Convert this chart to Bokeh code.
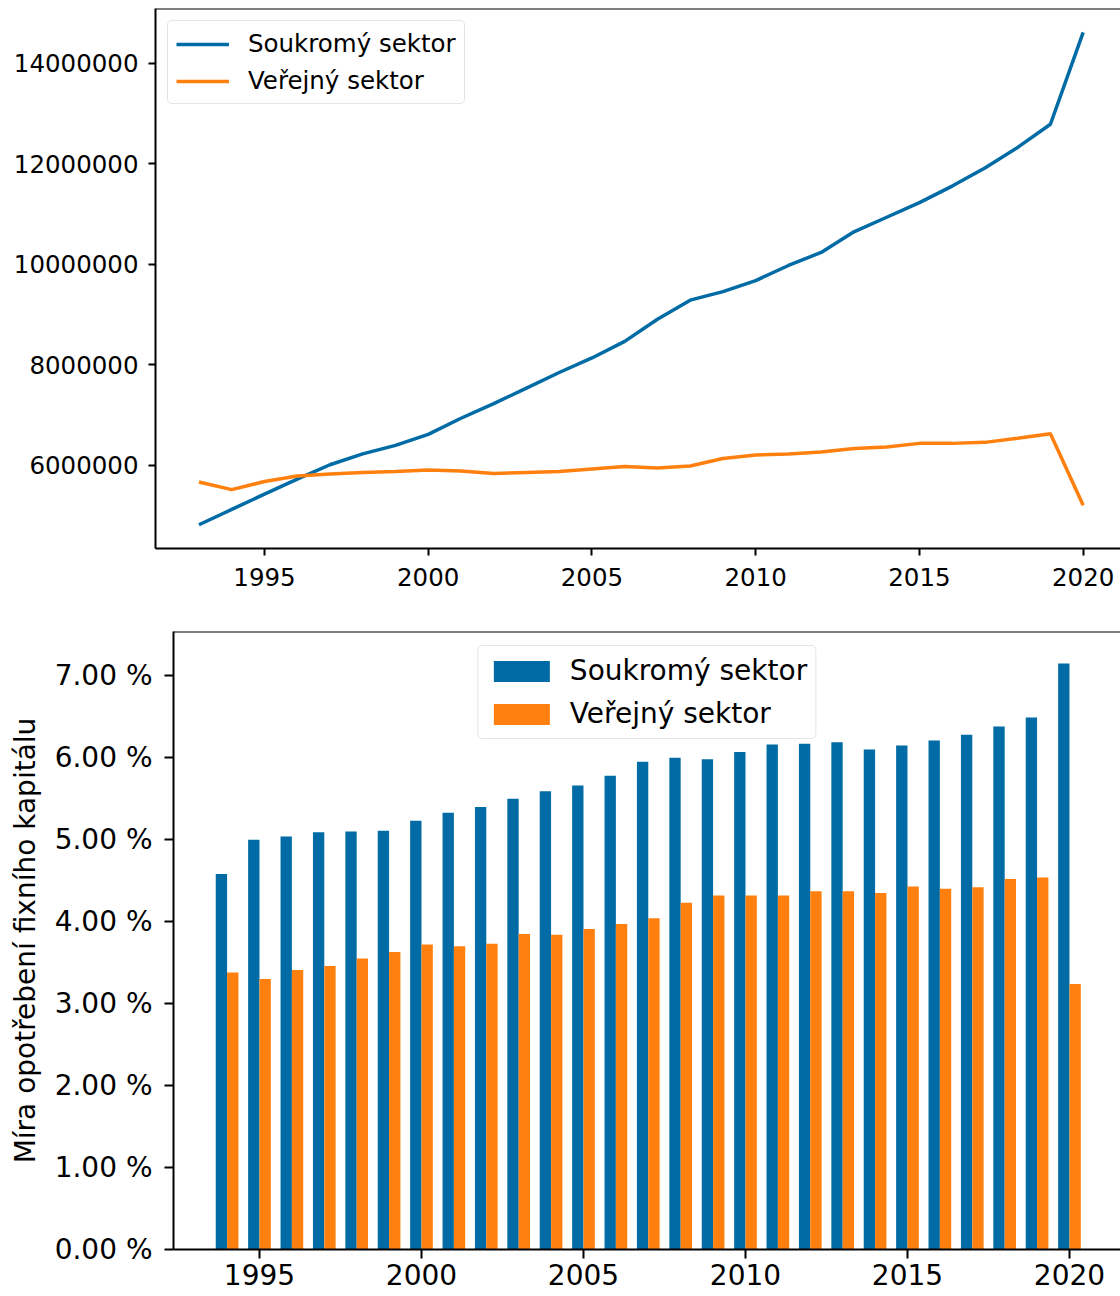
from bokeh.plotting import figure
from bokeh.models import (ColumnDataSource, Range1d, FixedTicker, BasicTickFormatter,
                          PrintfTickFormatter, Legend, LegendItem, Span)
from bokeh.transform import dodge
from bokeh.embed import file_html
from bokeh.resources import INLINE

# ---------------- data ----------------
years_abs = [1993, 1994, 1995, 1996, 1997, 1998, 1999, 2000, 2001, 2002,
             2003, 2004, 2005, 2006, 2007, 2008, 2009, 2010, 2011, 2012,
             2013, 2014, 2015, 2016, 2017, 2018, 2019, 2020]
private_abs = [4.82e6, 5.125e6, 5.43e6, 5.73e6, 6.015e6, 6.23e6, 6.40e6, 6.62e6,
               6.94e6, 7.23e6, 7.54e6, 7.85e6, 8.14e6, 8.47e6, 8.91e6, 9.29e6,
               9.46e6, 9.68e6, 9.98e6, 10.24e6, 10.65e6, 10.94e6, 11.23e6,
               11.56e6, 11.92e6, 12.33e6, 12.79e6, 14.62e6]
public_abs = [5.67e6, 5.52e6, 5.68e6, 5.79e6, 5.83e6, 5.86e6, 5.88e6, 5.91e6,
              5.89e6, 5.84e6, 5.86e6, 5.88e6, 5.93e6, 5.98e6, 5.95e6, 5.99e6,
              6.14e6, 6.21e6, 6.23e6, 6.27e6, 6.34e6, 6.37e6, 6.44e6, 6.44e6,
              6.46e6, 6.54e6, 6.63e6, 5.21e6]

years_rate = [1994, 1995, 1996, 1997, 1998, 1999, 2000, 2001, 2002, 2003,
              2004, 2005, 2006, 2007, 2008, 2009, 2010, 2011, 2012, 2013,
              2014, 2015, 2016, 2017, 2018, 2019, 2020]
private_rate = [4.58, 5.00, 5.04, 5.09, 5.10, 5.11, 5.23, 5.33, 5.40, 5.50,
                5.59, 5.66, 5.78, 5.95, 6.00, 5.98, 6.07, 6.16, 6.17, 6.19,
                6.10, 6.15, 6.21, 6.28, 6.38, 6.49, 7.15]
public_rate = [3.38, 3.30, 3.41, 3.46, 3.55, 3.63, 3.72, 3.70, 3.73, 3.85,
               3.84, 3.91, 3.97, 4.04, 4.23, 4.32, 4.32, 4.32, 4.37, 4.37,
               4.35, 4.43, 4.40, 4.42, 4.52, 4.54, 3.24]

x_ticks = [1995, 2000, 2005, 2010, 2015, 2020]
y_ticks_abs = [6000000, 8000000, 10000000, 12000000, 14000000]
y_ticks_rate = [0, 1, 2, 3, 4, 5, 6, 7]

labels = ["Soukromý sektor", "Veřejný sektor"]
ylabel_rate = "Míra opotřebení fixního kapitálu"

BLUE = "#006BA4"
ORANGE = "#FF800E"
FONT = "DejaVu Sans"


def style_axes(p, fs, tick_len, standoff):
    p.outline_line_color = None
    p.grid.visible = False
    for ax in (p.xaxis[0], p.yaxis[0]):
        ax.axis_line_width = 2
        ax.axis_line_color = "black"
        ax.major_tick_line_width = 2
        ax.major_tick_line_color = "black"
        ax.major_tick_out = tick_len
        ax.major_tick_in = 0
        ax.minor_tick_line_color = None
        ax.major_label_text_font = FONT
        ax.major_label_text_font_size = fs
        ax.major_label_text_color = "black"
        ax.major_label_standoff = standoff


def round_legend(leg):
    if "border_radius" in Legend.properties():
        leg.border_radius = 5


# ---------------- top: absolute values ----------------
p1 = figure(width=1120, height=600, output_backend="svg", toolbar_location=None,
            x_range=Range1d(1991.672, 2021.14), y_range=Range1d(4.348e6, 15.094e6),
            min_border_left=155, min_border_right=0, min_border_top=8, min_border_bottom=52)
style_axes(p1, "24.5px", 7, 10)
p1.xaxis.major_label_standoff = 12
p1.xaxis.ticker = FixedTicker(ticks=x_ticks)
p1.yaxis.ticker = FixedTicker(ticks=y_ticks_abs)
p1.yaxis.formatter = BasicTickFormatter(use_scientific=False)

l1 = p1.line(years_abs, private_abs, line_color=BLUE, line_width=3.5)
l2 = p1.line(years_abs, public_abs, line_color=ORANGE, line_width=3.5)
p1.add_layout(Span(location=p1.y_range.end, dimension="width",
                   line_color="black", line_width=2))

leg1 = Legend(items=[LegendItem(label=labels[0], renderers=[l1]),
                     LegendItem(label=labels[1], renderers=[l2])],
              location="top_left", margin=12, padding=8, spacing=8,
              glyph_width=53, glyph_height=28, label_height=28, label_standoff=19,
              label_text_font=FONT, label_text_font_size="24.5px", label_text_color="black",
              border_line_color="#cccccc", border_line_width=1.5,
              background_fill_alpha=0.8)
round_legend(leg1)
p1.add_layout(leg1)

# ---------------- bottom: rates ----------------
src = ColumnDataSource(dict(year=years_rate, private=private_rate, public=public_rate))

p2 = figure(width=1120, height=696, output_backend="svg", toolbar_location=None,
            x_range=Range1d(1992.346, 2021.575), y_range=Range1d(0, 7.54),
            min_border_left=173, min_border_right=0, min_border_top=31, min_border_bottom=47)
style_axes(p2, "28px", 9, 5)
p2.xaxis.ticker = FixedTicker(ticks=x_ticks)
p2.yaxis.ticker = FixedTicker(ticks=y_ticks_rate)
p2.yaxis.formatter = PrintfTickFormatter(format="%.2f %%")
p2.yaxis.major_label_standoff = 12
p2.yaxis.axis_label = ylabel_rate
p2.yaxis.axis_label_text_font = FONT
p2.yaxis.axis_label_text_font_size = "28px"
p2.yaxis.axis_label_text_font_style = "normal"
p2.yaxis.axis_label_text_color = "black"
p2.yaxis.axis_label_standoff = 10

b1 = p2.vbar(x=dodge("year", -0.175, range=p2.x_range), top="private", width=0.35,
             source=src, fill_color=BLUE, line_color=None)
b2 = p2.vbar(x=dodge("year", 0.175, range=p2.x_range), top="public", width=0.35,
             source=src, fill_color=ORANGE, line_color=None)
p2.add_layout(Span(location=p2.y_range.end, dimension="width",
                   line_color="black", line_width=2))

leg2 = Legend(items=[LegendItem(label=labels[0], renderers=[b1]),
                     LegendItem(label=labels[1], renderers=[b2])],
              location="top_center", margin=14, padding=8, spacing=10,
              glyph_width=70, glyph_height=26, label_height=26, label_standoff=14,
              label_text_font=FONT, label_text_font_size="28px", label_text_color="black",
              border_line_color="#cccccc", border_line_width=1.5,
              background_fill_alpha=0.8)
round_legend(leg2)
p2.add_layout(leg2)

open("out.html", "w").write(file_html([p1, p2], INLINE))
